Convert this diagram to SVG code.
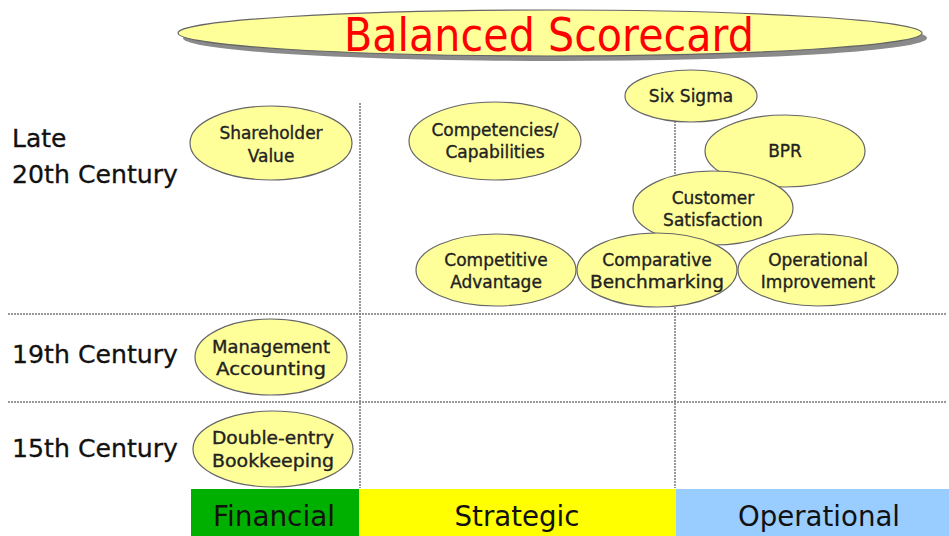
<svg xmlns="http://www.w3.org/2000/svg" width="949" height="536" viewBox="0 0 949 536">
<style>
.grid{stroke:#7a7a7a;stroke-width:1.5;stroke-dasharray:2 1;fill:none}
.node ellipse{fill:#FFFF99;stroke:#666;stroke-width:1.2}
.nt{font-family:"DejaVu Sans",Verdana,sans-serif;font-size:17px;fill:#222;stroke:#222;stroke-width:0.35;text-anchor:middle}
.row{font-family:"DejaVu Sans",Verdana,sans-serif;font-size:25px;fill:#111;stroke:#111;stroke-width:0.3}
.cat{font-family:"DejaVu Sans",Verdana,sans-serif;font-size:29px;fill:#111;text-anchor:middle}
</style>
<rect width="949" height="536" fill="#fff"/>
<g id="title">
<ellipse cx="555" cy="38" rx="372" ry="23" fill="#8a8a8a"/>
<ellipse cx="550" cy="33" rx="372" ry="23" fill="#FFFF99" stroke="#666" stroke-width="1.2"/>
<text x="549" y="51" font-family="DejaVu Sans,Verdana,sans-serif" font-size="47" fill="#FF0000" text-anchor="middle" textLength="410" lengthAdjust="spacingAndGlyphs">Balanced Scorecard</text>
</g>
<g id="connectors">
<line class="grid" x1="360" y1="103" x2="360" y2="488"/>
<line class="grid" x1="675" y1="118" x2="675" y2="488"/>
<line class="grid" x1="8" y1="314" x2="946" y2="314"/>
<line class="grid" x1="8" y1="402" x2="946" y2="402"/>
</g>
<g id="rows">
<text class="row" x="12" y="147">Late</text>
<text class="row" x="12" y="183" textLength="166" lengthAdjust="spacingAndGlyphs">20th Century</text>
<text class="row" x="12" y="363" textLength="166" lengthAdjust="spacingAndGlyphs">19th Century</text>
<text class="row" x="12" y="457" textLength="166" lengthAdjust="spacingAndGlyphs">15th Century</text>
</g>
<g id="cat-financial"><rect x="191" y="489" width="168" height="47" fill="#00B000"/><text class="cat" x="274" y="526" textLength="122" lengthAdjust="spacingAndGlyphs">Financial</text></g>
<g id="cat-strategic"><rect x="359" y="489" width="317" height="47" fill="#FFFF00"/><text class="cat" x="517" y="526" textLength="125" lengthAdjust="spacingAndGlyphs">Strategic</text></g>
<g id="cat-operational"><rect x="676" y="489" width="273" height="47" fill="#99CCFF"/><text class="cat" x="819" y="526" textLength="162" lengthAdjust="spacingAndGlyphs">Operational</text></g>
<g id="n-shareholder" class="node"><ellipse cx="271" cy="143" rx="81" ry="37"/><text class="nt" x="271" y="139">Shareholder</text><text class="nt" x="271" y="162">Value</text></g>
<g id="n-mgmt" class="node"><ellipse cx="271" cy="357" rx="76" ry="38"/><text class="nt" x="271" y="353" textLength="118" lengthAdjust="spacingAndGlyphs">Management</text><text class="nt" x="271" y="375" textLength="110" lengthAdjust="spacingAndGlyphs">Accounting</text></g>
<g id="n-double" class="node"><ellipse cx="273" cy="449" rx="80" ry="38"/><text class="nt" x="273" y="444" textLength="122" lengthAdjust="spacingAndGlyphs">Double-entry</text><text class="nt" x="273" y="467" textLength="122" lengthAdjust="spacingAndGlyphs">Bookkeeping</text></g>
<g id="n-competencies" class="node"><ellipse cx="495" cy="141" rx="86" ry="39"/><text class="nt" x="495" y="136">Competencies/</text><text class="nt" x="495" y="158">Capabilities</text></g>
<g id="n-sixsigma" class="node"><ellipse cx="691" cy="96" rx="66" ry="26"/><text class="nt" x="691" y="102">Six Sigma</text></g>
<g id="n-bpr" class="node"><ellipse cx="785" cy="151" rx="80" ry="36"/><text class="nt" x="785" y="157">BPR</text></g>
<g id="n-customer" class="node"><ellipse cx="713" cy="208" rx="80" ry="37"/><text class="nt" x="713" y="204">Customer</text><text class="nt" x="713" y="226">Satisfaction</text></g>
<g id="n-competitive" class="node"><ellipse cx="496" cy="270" rx="80" ry="36"/><text class="nt" x="496" y="266">Competitive</text><text class="nt" x="496" y="288">Advantage</text></g>
<g id="n-operational" class="node"><ellipse cx="818" cy="270" rx="80" ry="36"/><text class="nt" x="818" y="266">Operational</text><text class="nt" x="818" y="288">Improvement</text></g>
<g id="n-comparative" class="node"><ellipse cx="657" cy="270" rx="80" ry="37"/><text class="nt" x="657" y="266">Comparative</text><text class="nt" x="657" y="288" textLength="134" lengthAdjust="spacingAndGlyphs">Benchmarking</text></g>
</svg>
